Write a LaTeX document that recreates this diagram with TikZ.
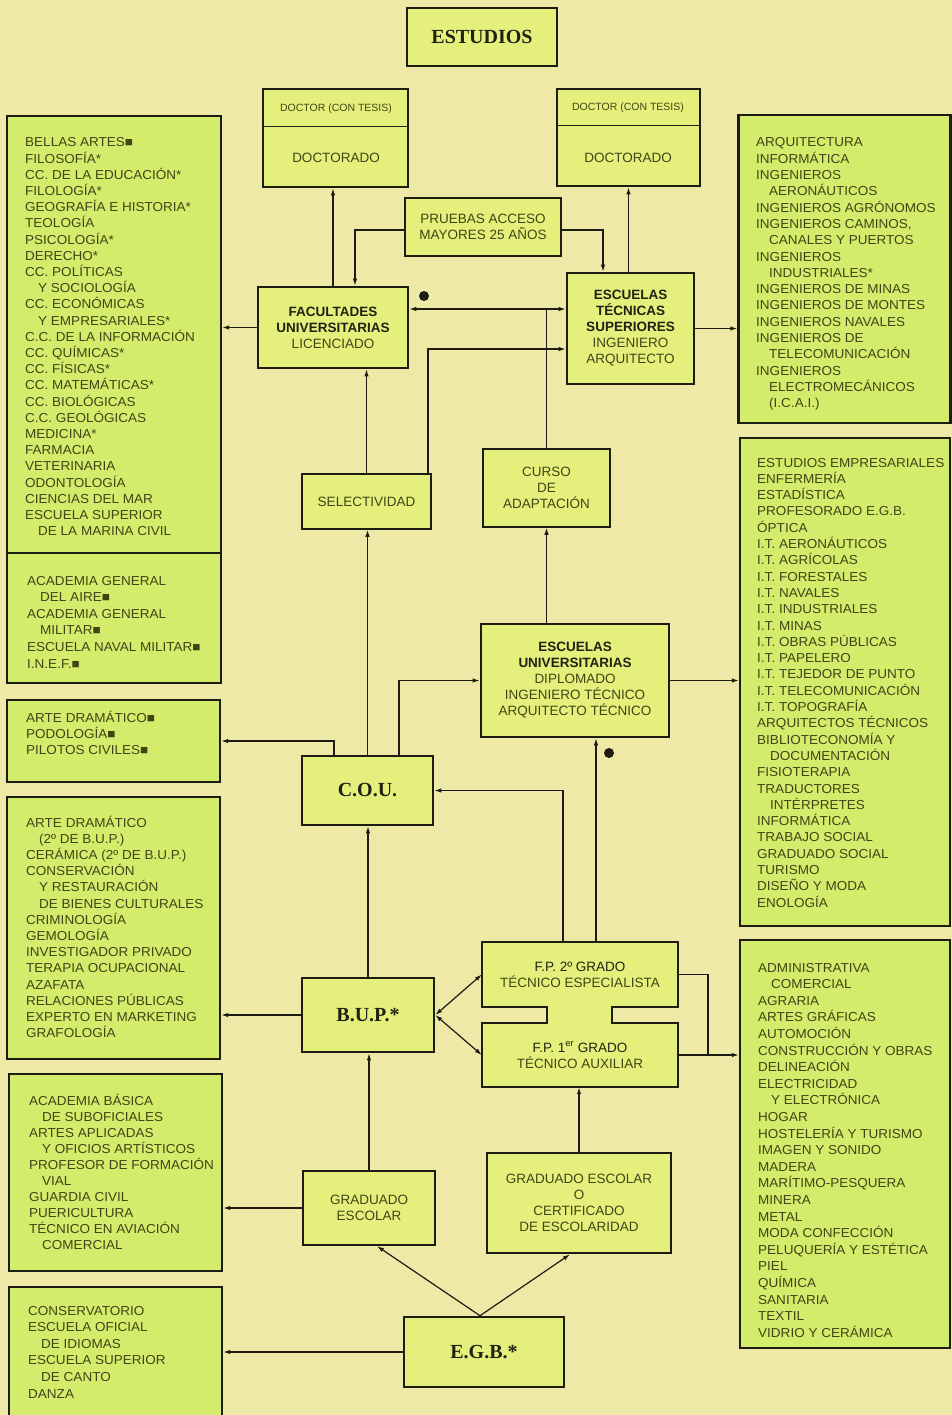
\documentclass[tikz,border=0pt]{standalone}
\usepackage{fontspec}
\setmainfont{Liberation Sans}
\newfontfamily\lfont{Liberation Sans}[FakeStretch=1.04]
\newfontfamily\sfont{Liberation Serif}
\usetikzlibrary{arrows.meta}
\definecolor{bgc}{RGB}{239,233,168}
\definecolor{cfill}{RGB}{229,240,124}
\definecolor{sfill}{RGB}{212,236,108}
\definecolor{tcol}{RGB}{66,68,22}
\definecolor{hcol}{RGB}{34,34,20}
\definecolor{linec}{RGB}{28,28,18}
\newcommand\lst[3]{\parbox[t]{#1}{\raggedright\lfont\fontsize{13}{#2}\selectfont #3}}
\newcommand\ind{\hspace*{13pt}}
\newcommand\hd[1]{{\color{hcol}\bfseries #1}}
\tikzset{
  cbox/.style={draw=linec, fill=cfill, line width=2.6pt, inner sep=0, align=center, text=tcol, font=\fontsize{13.5}{16}\selectfont},
  tbox/.style={cbox, line width=1.5pt},
  sbox/.style={draw=linec, fill=sfill, line width=2.4pt, inner sep=0},
  fpbox/.style={draw=none, fill=none, inner sep=0, align=center, text=tcol, font=\fontsize{13.5}{16}\selectfont},
  bigt/.style={font=\sfont\bfseries\fontsize{20}{22}\selectfont, text=hcol},
  lstt/.style={anchor=base west, inner sep=0, text=tcol},
  arr/.style={draw=linec, line width=1.2pt, -{Latex[length=7pt,width=4.5pt]}},
  arrs/.style={draw=linec, line width=1.2pt, {Latex[length=7pt,width=4.5pt]}-{Latex[length=7pt,width=4.5pt]}},
  ln/.style={draw=linec, line width=1.2pt},
  dotm/.style={circle, fill=linec, minimum size=10pt, inner sep=0}
}
\begin{document}
\begin{tikzpicture}[x=1pt,y=-1pt]
\path[use as bounding box] (0,0) rectangle (952,1415);
\clip (0,0) rectangle (952,1415);
\fill[bgc] (0,0) rectangle (952,1415);

% FP combined outline
\path[draw=linec, fill=cfill, line width=2.6pt] (482,942) -- (678,942) -- (678,1007) -- (612,1007) -- (612,1023) -- (678,1023) -- (678,1087) -- (482,1087) -- (482,1023) -- (547,1023) -- (547,1007) -- (482,1007) -- cycle;

% central boxes
\node[cbox, line width=2pt, minimum width=150pt, minimum height=58pt, bigt] (estudios) at (482,37) {ESTUDIOS};
\node[cbox, minimum width=145pt, minimum height=98pt] (docL) at (335.5,138) {};
\node[cbox, minimum width=143pt, minimum height=97pt] (docR) at (628.5,137.5) {};
\draw[linec, line width=1.3pt] ([yshift=-39pt]docL.north west) -- ([yshift=-39pt]docL.north east);
\draw[linec, line width=1.3pt] ([yshift=-38pt]docR.north west) -- ([yshift=-38pt]docR.north east);
\node[text=tcol, font=\fontsize{10.5}{12}\selectfont] (docLa) at (336,109) {DOCTOR (CON TESIS)};
\node[text=tcol, font=\fontsize{13.5}{16}\selectfont] (docLb) at (336,158) {DOCTORADO};
\node[text=tcol, font=\fontsize{10.5}{12}\selectfont] (docRa) at (628,108) {DOCTOR (CON TESIS)};
\node[text=tcol, font=\fontsize{13.5}{16}\selectfont] (docRb) at (628,158) {DOCTORADO};

\node[tbox, minimum width=156pt, minimum height=58pt] (prueb) at (483,227) {PRUEBAS ACCESO\\MAYORES 25 AÑOS};
\node[cbox, minimum width=150pt, minimum height=81pt] (fac) at (333,327.5) {\hd{FACULTADES}\\\hd{UNIVERSITARIAS}\\LICENCIADO};
\node[cbox, minimum width=127pt, minimum height=111pt] (ets) at (630.5,328.5) {\hd{ESCUELAS}\\\hd{TÉCNICAS}\\\hd{SUPERIORES}\\INGENIERO\\ARQUITECTO};
\node[tbox, minimum width=129pt, minimum height=55pt] (sel) at (366.5,501.5) {SELECTIVIDAD};
\node[tbox, minimum width=127pt, minimum height=78pt] (curso) at (546.5,488) {CURSO\\DE\\ADAPTACIÓN};
\node[cbox, minimum width=188pt, minimum height=113pt] (eu) at (575,680.5) {\hd{ESCUELAS}\\\hd{UNIVERSITARIAS}\\DIPLOMADO\\INGENIERO TÉCNICO\\ARQUITECTO TÉCNICO};
\node[cbox, minimum width=131pt, minimum height=69pt, bigt] (cou) at (367.5,790.5) {C.O.U.};
\node[cbox, minimum width=132pt, minimum height=74pt, bigt] (bup) at (368,1015) {B.U.P.*};
\node[fpbox, minimum width=196pt, minimum height=65pt] (fp2) at (580,974.5) {{\color{hcol}F.P. 2º GRADO}\\TÉCNICO ESPECIALISTA};
\node[fpbox, minimum width=196pt, minimum height=64pt] (fp1) at (580,1055) {{\color{hcol}F.P. 1\textsuperscript{er} GRADO}\\TÉCNICO AUXILIAR};
\node[cbox, line width=2.2pt, minimum width=132pt, minimum height=74pt] (grad) at (369,1208) {GRADUADO\\ESCOLAR};
\node[cbox, minimum width=184pt, minimum height=100pt] (cert) at (579,1203) {GRADUADO ESCOLAR\\O\\CERTIFICADO\\DE ESCOLARIDAD};
\node[cbox, minimum width=160pt, minimum height=70pt, bigt] (egb) at (484,1352) {E.G.B.*};

% side boxes
\node[sbox, minimum width=214pt, minimum height=567pt] (lb1) at (114,399.5) {};
\draw[linec, line width=1.4pt] ([yshift=-438pt]lb1.north west) -- ([yshift=-438pt]lb1.north east);
\node[sbox, minimum width=213pt, minimum height=82pt] (arte) at (113.5,741) {};
\node[sbox, minimum width=213pt, minimum height=262pt] (lb2) at (113.5,928) {};
\node[sbox, minimum width=213pt, minimum height=197pt] (lb3) at (115.5,1172.5) {};
\node[sbox, minimum width=213pt, minimum height=143pt] (lb4) at (115.5,1358.5) {};
\node[sbox, minimum width=212pt, minimum height=308pt] (rb1) at (844.5,269) {};
\node[sbox, minimum width=210pt, minimum height=488pt] (rb2) at (845,682) {};
\node[sbox, minimum width=210pt, minimum height=408pt] (rb3) at (845,1144) {};

% list texts
\node[lstt] (lb1t) at (25,147) {\lst{195pt}{16.2}{BELLAS ARTES■\\FILOSOFÍA*\\CC. DE LA EDUCACIÓN*\\FILOLOGÍA*\\GEOGRAFÍA E HISTORIA*\\TEOLOGÍA\\PSICOLOGÍA*\\DERECHO*\\CC. POLÍTICAS\\\ind Y SOCIOLOGÍA\\CC. ECONÓMICAS\\\ind Y EMPRESARIALES*\\C.C. DE LA INFORMACIÓN\\CC. QUÍMICAS*\\CC. FÍSICAS*\\CC. MATEMÁTICAS*\\CC. BIOLÓGICAS\\C.C. GEOLÓGICAS\\MEDICINA*\\FARMACIA\\VETERINARIA\\ODONTOLOGÍA\\CIENCIAS DEL MAR\\ESCUELA SUPERIOR\\\ind DE LA MARINA CIVIL}};
\node[lstt] (lb1u) at (27,585) {\lst{195pt}{16.6}{ACADEMIA GENERAL\\\ind DEL AIRE■\\ACADEMIA GENERAL\\\ind MILITAR■\\ESCUELA NAVAL MILITAR■\\I.N.E.F.■}};
\node[lstt] (artet) at (26,722) {\lst{190pt}{16}{ARTE DRAMÁTICO■\\PODOLOGÍA■\\PILOTOS CIVILES■}};
\node[lstt] (lb2t) at (26,827) {\lst{195pt}{16.2}{ARTE DRAMÁTICO\\\ind (2º DE B.U.P.)\\CERÁMICA (2º DE B.U.P.)\\CONSERVACIÓN\\\ind Y RESTAURACIÓN\\\ind DE BIENES CULTURALES\\CRIMINOLOGÍA\\GEMOLOGÍA\\INVESTIGADOR PRIVADO\\TERAPIA OCUPACIONAL\\AZAFATA\\RELACIONES PÚBLICAS\\EXPERTO EN MARKETING\\GRAFOLOGÍA}};
\node[lstt] (lb3t) at (29,1105) {\lst{192pt}{16.1}{ACADEMIA BÁSICA\\\ind DE SUBOFICIALES\\ARTES APLICADAS\\\ind Y OFICIOS ARTÍSTICOS\\PROFESOR DE FORMACIÓN\\\ind VIAL\\GUARDIA CIVIL\\PUERICULTURA\\TÉCNICO EN AVIACIÓN\\\ind COMERCIAL}};
\node[lstt] (lb4t) at (28,1315) {\lst{192pt}{16.6}{CONSERVATORIO\\ESCUELA OFICIAL\\\ind DE IDIOMAS\\ESCUELA SUPERIOR\\\ind DE CANTO\\DANZA}};
\node[lstt] (rb1t) at (756,147) {\lst{192pt}{16.3}{ARQUITECTURA\\INFORMÁTICA\\INGENIEROS\\\ind AERONÁUTICOS\\INGENIEROS AGRÓNOMOS\\INGENIEROS CAMINOS,\\\ind CANALES Y PUERTOS\\INGENIEROS\\\ind INDUSTRIALES*\\INGENIEROS DE MINAS\\INGENIEROS DE MONTES\\INGENIEROS NAVALES\\INGENIEROS DE\\\ind TELECOMUNICACIÓN\\INGENIEROS\\\ind ELECTROMECÁNICOS\\\ind (I.C.A.I.)}};
\node[lstt] (rb2t) at (757,467) {\lst{192pt}{16.3}{ESTUDIOS EMPRESARIALES\\ENFERMERÍA\\ESTADÍSTICA\\PROFESORADO E.G.B.\\ÓPTICA\\I.T. AERONÁUTICOS\\I.T. AGRÍCOLAS\\I.T. FORESTALES\\I.T. NAVALES\\I.T. INDUSTRIALES\\I.T. MINAS\\I.T. OBRAS PÚBLICAS\\I.T. PAPELERO\\I.T. TEJEDOR DE PUNTO\\I.T. TELECOMUNICACIÓN\\I.T. TOPOGRAFÍA\\ARQUITECTOS TÉCNICOS\\BIBLIOTECONOMÍA Y\\\ind DOCUMENTACIÓN\\FISIOTERAPIA\\TRADUCTORES\\\ind INTÉRPRETES\\INFORMÁTICA\\TRABAJO SOCIAL\\GRADUADO SOCIAL\\TURISMO\\DISEÑO Y MODA\\ENOLOGÍA}};
\node[lstt] (rb3t) at (758,972) {\lst{192pt}{16.6}{ADMINISTRATIVA\\\ind COMERCIAL\\AGRARIA\\ARTES GRÁFICAS\\AUTOMOCIÓN\\CONSTRUCCIÓN Y OBRAS\\DELINEACIÓN\\ELECTRICIDAD\\\ind Y ELECTRÓNICA\\HOGAR\\HOSTELERÍA Y TURISMO\\IMAGEN Y SONIDO\\MADERA\\MARÍTIMO-PESQUERA\\MINERA\\METAL\\MODA CONFECCIÓN\\PELUQUERÍA Y ESTÉTICA\\PIEL\\QUÍMICA\\SANITARIA\\TEXTIL\\VIDRIO Y CERÁMICA}};

% dots
\node[dotm] (dot1) at (424,296) {};
\node[dotm] (dot2) at (609,753) {};

% connectors
\coordinate (j1) at (546.5,309);
\coordinate (j2) at (708,1055);
\draw[arr] (fac.north) -- (fac.north |- docL.south);
\draw[arr] (docR.south |- ets.north) -- (docR.south);
\draw[arr] ([yshift=-3pt]prueb.west) -| ([xshift=22pt]fac.north);
\draw[arr] ([yshift=-3pt]prueb.east) -| ([xshift=-27.5pt]ets.north);
\draw[ln] (curso.north) -- (j1);
\draw[arr] (j1) -- (fac.east |- j1);
\draw[arr] (j1) -- (ets.west |- j1);
\draw[arr] ([xshift=61.5pt]sel.north) |- ([yshift=-20.5pt]ets.west);
\draw[arr] (sel.north) -- (sel.north |- fac.south);
\draw[arr] (fac.west) -- (fac.west -| lb1.east);
\draw[arr] (ets.east) -- (ets.east -| rb1.west);
\draw[arr] (cou.north) -- (cou.north |- sel.south);
\draw[arr] ([xshift=31.5pt]cou.north) |- (eu.west);
\draw[arr] ([xshift=-33.5pt]cou.north) |- (arte.east);
\draw[arr] (curso.south |- eu.north) -- (curso.south);
\draw[arr] (eu.east) -- (eu.east -| rb2.west);
\draw[arr] ([xshift=-17pt]fp2.north) |- (cou.east);
\draw[arr] ([xshift=16pt]fp2.north) -- ([xshift=16pt]fp2.north |- eu.south);
\draw[arr] (bup.north) -- (bup.north |- cou.south);
\draw[arrs] (bup.east) -- (fp2.west);
\draw[arrs] (bup.east) -- (fp1.west);
\draw[arr] (bup.west) -- (bup.west -| lb2.east);
\draw[ln] (fp2.east) -| (j2);
\draw[arr] (fp1.east) -- (fp1.east -| rb3.west);
\draw[arr] (grad.north) -- (grad.north |- bup.south);
\draw[arr] (grad.west) -- (grad.west -| lb3.east);
\draw[arr] (cert.north) -- (cert.north |- fp1.south);
\draw[arr] ([xshift=-4pt]egb.north) -- ([xshift=8pt]grad.south);
\draw[arr] ([xshift=-4pt]egb.north) -- ([xshift=-9pt]cert.south);
\draw[arr] (egb.west) -- (egb.west -| lb4.east);
\end{tikzpicture}
\end{document}
